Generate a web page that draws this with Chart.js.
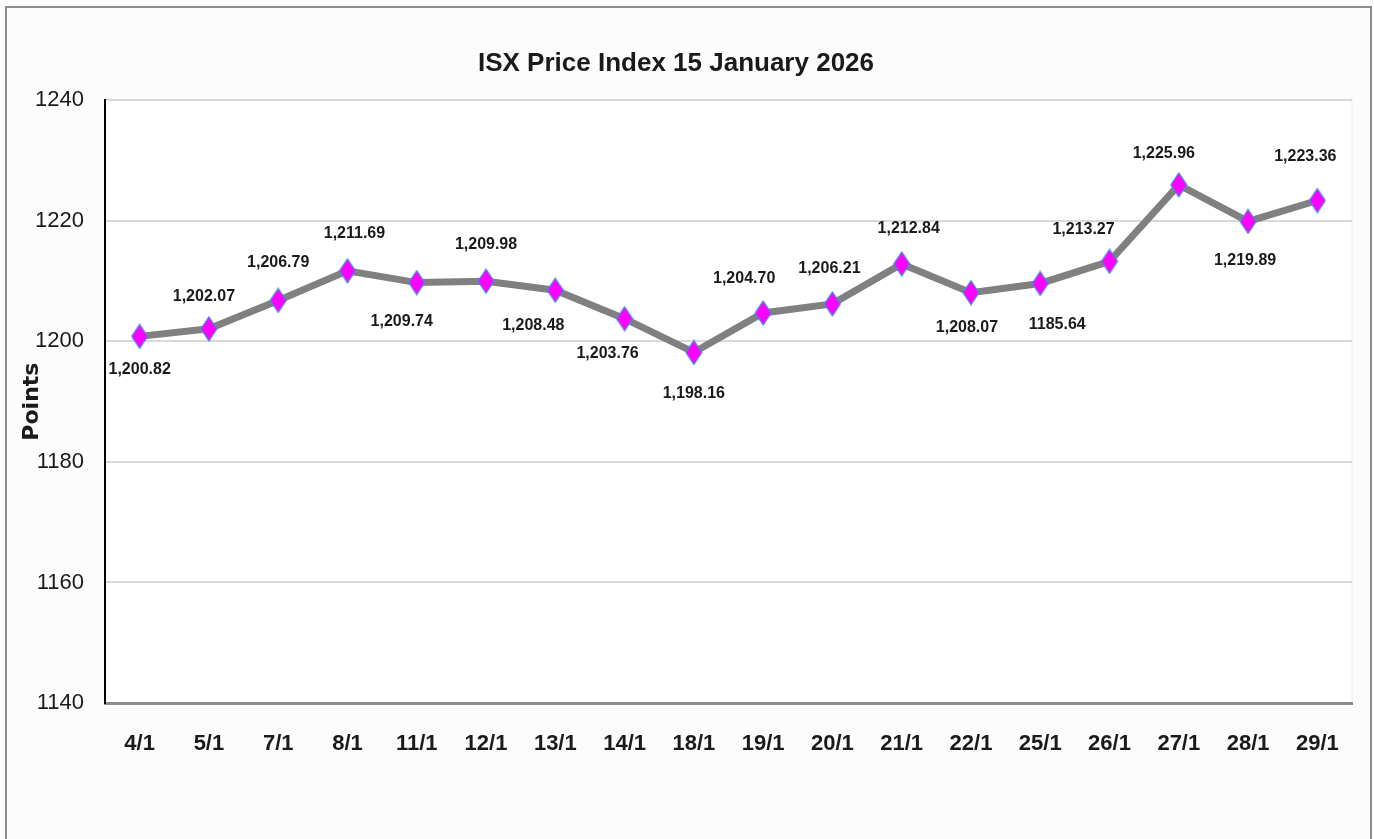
<!DOCTYPE html>
<html>
<head>
<meta charset="utf-8">
<script src="https://cdn.jsdelivr.net/npm/chart.js@4.4.1/dist/chart.umd.min.js"></script>
<style>
  html, body { margin: 0; padding: 0; background: #fcfcfc; }
  #wrap { position: absolute; left: 0; top: 0; width: 1374px; height: 839px; }
</style>
</head>
<body>
<div id="wrap"><canvas id="lineChart" width="1374" height="839"></canvas></div>
<script>
var categories = ["4/1", "5/1", "7/1", "8/1", "11/1", "12/1", "13/1", "14/1", "18/1",
  "19/1", "20/1", "21/1", "22/1", "25/1", "26/1", "27/1", "28/1", "29/1"];

var indexValues = [1200.82, 1202.07, 1206.79, 1211.69, 1209.74, 1209.98, 1208.48, 1203.76,
  1198.16, 1204.70, 1206.21, 1212.84, 1208.07, 1209.6, 1213.27, 1225.96, 1219.89, 1223.36];

// labels as printed on the chart (25/1 reads 1185.64 although the point sits near 1209.6)
var valueLabels = ["1,200.82", "1,202.07", "1,206.79", "1,211.69", "1,209.74", "1,209.98",
  "1,208.48", "1,203.76", "1,198.16", "1,204.70", "1,206.21", "1,212.84", "1,208.07",
  "1185.64", "1,213.27", "1,225.96", "1,219.89", "1,223.36"];

var yTicks = [1140, 1160, 1180, 1200, 1220, 1240];

var FONT = "'Liberation Sans', Arial, sans-serif";

// diamond marker, a bit taller than wide
var marker = document.createElement("canvas");
marker.width = 18;
marker.height = 26;
(function () {
  var c = marker.getContext("2d");
  c.beginPath();
  c.moveTo(9, 1);
  c.lineTo(17, 13);
  c.lineTo(9, 25);
  c.lineTo(1, 13);
  c.closePath();
  c.fillStyle = "#ff00ff";
  c.fill();
  c.lineWidth = 1.2;
  c.strokeStyle = "#3d8fd6";
  c.stroke();
})();

var background = {
  id: "background",
  beforeDraw: function (chart) {
    var c = chart.ctx, a = chart.chartArea;
    c.save();
    c.fillStyle = "#fcfcfc";
    c.fillRect(0, 0, chart.width, chart.height);
    c.fillStyle = "#ffffff";
    c.fillRect(a.left, a.top, a.right - a.left, a.bottom - a.top);
    c.strokeStyle = "#ebebeb";
    c.lineWidth = 1;
    c.strokeRect(a.left, a.top, a.right - a.left, a.bottom - a.top);
    c.strokeStyle = "#8c8c8c";
    c.lineWidth = 2;
    c.strokeRect(6, 7, 1365, 900);
    c.restore();
  }
};

var pointLabels = {
  id: "pointLabels",
  afterDatasetsDraw: function (chart, args, opts) {
    var c = chart.ctx;
    var meta = chart.getDatasetMeta(0);
    c.save();
    c.font = "bold 16px " + FONT;
    c.fillStyle = "#1a1a1a";
    c.textAlign = "center";
    c.textBaseline = "middle";
    meta.data.forEach(function (pt, i) {
      c.fillText(valueLabels[i], pt.x + opts.dx[i], pt.y + opts.dy[i]);
    });
    c.restore();
  }
};

var ctx = document.getElementById("lineChart").getContext("2d");
var myChart = new Chart(ctx, {
  type: "line",
  data: {
    labels: categories,
    datasets: [
      {
        label: "ISX Price Index",
        data: indexValues,
        borderColor: "#808080",
        borderWidth: 7,
        tension: 0,
        pointStyle: marker,
        pointRadius: 12,
        pointHoverRadius: 12,
      },
    ],
  },
  options: {
    responsive: false,
    animation: false,
    events: [],
    layout: { padding: { left: 0, right: 22, top: 0, bottom: 0 } },
    plugins: {
      legend: { display: false },
      tooltip: { enabled: false },
      title: {
        display: true,
        text: "ISX Price Index 15 January 2026",
        color: "#1a1a1a",
        font: { family: FONT, size: 26, weight: "bold" },
        padding: { top: 48, bottom: 21 },
      },
      pointLabels: {
        dx: [0, -5, 0, 7, -15, 0, -22, -17, 0, -19, -3, 7, -4, 17, -26, -15, -3, -12],
        dy: [33, -32, -38, -37, 39, -37, 35, 35, 41, -34, -35, -35, 35, 41, -32, -31, 39, -44],
      },
    },
    scales: {
      x: {
        offset: true,
        grid: { display: false, drawTicks: false },
        border: { color: "#8a8a8a", width: 3 },
        ticks: {
          color: "#1a1a1a",
          padding: 28,
          maxRotation: 0,
          font: { family: FONT, size: 22, weight: "bold" },
        },
        afterFit: function (s) { s.height = 136; },
      },
      y: {
        min: 1140,
        max: 1240,
        afterBuildTicks: function (s) {
          s.ticks = yTicks.map(function (v) { return { value: v }; });
        },
        grid: { color: "#d9d9d9", lineWidth: 2, drawTicks: false },
        border: { color: "#000000", width: 2 },
        ticks: {
          color: "#1a1a1a",
          padding: 21,
          font: { family: FONT, size: 22 },
          callback: function (v) { return String(v); },
        },
        title: {
          display: true,
          text: "Points",
          color: "#1a1a1a",
          font: { family: "'DejaVu Sans', sans-serif", size: 22, weight: "bold" },
          padding: { top: 19, bottom: 0 },
        },
        afterFit: function (s) { s.width = 105; },
      },
    },
  },
  plugins: [background, pointLabels],
});
</script>
</body>
</html>
